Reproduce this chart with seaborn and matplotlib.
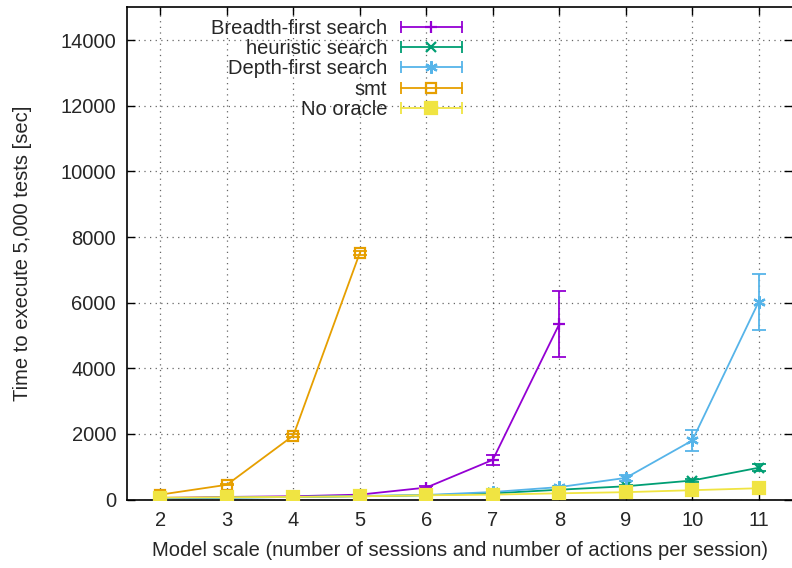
import numpy as np
import pandas as pd
import matplotlib
matplotlib.use("Agg")
import matplotlib.pyplot as plt
import seaborn as sns
from matplotlib.lines import Line2D
from matplotlib.legend_handler import HandlerLine2D, HandlerTuple

# Model scale (sessions = actions per session)
scale = [2, 3, 4, 5, 6, 7, 8, 9, 10, 11]

# Execution time for 5,000 tests [sec] and error-bar half widths
bfs_scale = [2, 3, 4, 5, 6, 7, 8]
bfs_time = [50, 80, 100, 150, 365, 1210, 5350]
bfs_err = [10, 15, 20, 25, 40, 150, 1000]

heur_time = [40, 60, 80, 100, 130, 190, 300, 405, 580, 970]
heur_err = [5, 8, 10, 12, 15, 20, 30, 40, 60, 110]

dfs_time = [40, 60, 80, 110, 140, 230, 380, 660, 1800, 6030]
dfs_err = [5, 8, 10, 12, 15, 30, 40, 80, 330, 850]

smt_scale = [2, 3, 4, 5]
smt_time = [150, 450, 1950, 7520]
smt_err = [10, 20, 40, 60]

none_time = [60, 70, 80, 100, 130, 150, 190, 225, 285, 345]
none_err = [5, 5, 5, 5, 5, 8, 8, 10, 12, 15]

labels = ["Breadth-first search", "heuristic search", "Depth-first search", "smt", "No oracle"]
colors = ["#9400d3", "#009e73", "#56b4e9", "#e69f00", "#f0e442"]

frames = [
    pd.DataFrame({"scale": bfs_scale, "time": bfs_time, "err": bfs_err, "method": labels[0]}),
    pd.DataFrame({"scale": scale, "time": heur_time, "err": heur_err, "method": labels[1]}),
    pd.DataFrame({"scale": scale, "time": dfs_time, "err": dfs_err, "method": labels[2]}),
    pd.DataFrame({"scale": smt_scale, "time": smt_time, "err": smt_err, "method": labels[3]}),
    pd.DataFrame({"scale": scale, "time": none_time, "err": none_err, "method": labels[4]}),
]
df = pd.concat(frames, ignore_index=True)

sns.set_theme(style="white")
plt.rcParams["font.family"] = ["Liberation Sans", "DejaVu Sans"]
plt.rcParams["font.size"] = 14.5

fig = plt.figure(figsize=(7.92, 5.68), dpi=100)
ax = fig.add_axes([0.1605, 0.1205, 0.8395, 0.8665])

asterisk = (6, 2, 0)
markers = ["+", "x", asterisk, "s", "s"]
msizes = [9, 7, 9, 7, 8]
fills = ["full", "full", "full", "none", "full"]

sns.lineplot(data=df, x="scale", y="time", hue="method", hue_order=labels,
             palette=colors, estimator=None, errorbar=None, linewidth=1.3,
             legend=False, ax=ax, zorder=3)

legend_handles = []
for lab, col, mk, ms, fs in zip(labels, colors, markers, msizes, fills):
    sub = df[df["method"] == lab]
    ax.errorbar(sub["scale"], sub["time"], yerr=sub["err"], fmt="none",
                ecolor=col, elinewidth=1.3, capsize=5, capthick=1.3, zorder=3)
    ax.plot(sub["scale"], sub["time"], linestyle="none", marker=mk,
            markersize=ms, markeredgewidth=1.6, color=col,
            markerfacecolor=(col if fs == "full" else "none"),
            markeredgecolor=col, zorder=4)
    bar = Line2D([0, 1], [0, 0], color=col, linewidth=1.3, marker="|",
                 markersize=9, markeredgewidth=1.3)
    dot = Line2D([0], [0], linestyle="none", marker=mk, markersize=ms,
                 markeredgewidth=1.6, color=col,
                 markerfacecolor=(col if fs == "full" else "none"),
                 markeredgecolor=col)
    legend_handles.append((bar, dot))

handler_map = {}
for bar, dot in legend_handles:
    handler_map[bar] = HandlerLine2D(numpoints=2)
    handler_map[dot] = HandlerLine2D(numpoints=1)
handler_map[tuple] = HandlerTuple(ndivide=1, pad=0)

leg = ax.legend(legend_handles, labels, loc="upper left",
                bbox_to_anchor=(0.105, 1.005), markerfirst=False,
                frameon=False, handlelength=3.6, handletextpad=0.4,
                labelspacing=0.06, fontsize=14.5, handler_map=handler_map,
                borderaxespad=0.3)

ax.set_xlim(1.5, 11.5)
ax.set_ylim(0, 15000)
ax.set_xticks(scale)
ax.set_yticks(np.arange(0, 15000, 2000))
ax.set_xlabel("Model scale (number of sessions and number of actions per session)",
              fontsize=14.5, labelpad=8)
ax.set_ylabel("Time to execute 5,000 tests [sec]", fontsize=14.5, labelpad=20)

ax.grid(True, color="#333333", linestyle=(0, (1, 3.5)), linewidth=0.9, alpha=0.75)
ax.tick_params(direction="in", length=6, width=1.0, top=True, right=True,
               bottom=True, left=True, labelsize=14.5, pad=8, color="black")
for side in ["left", "bottom", "top"]:
    ax.spines[side].set_color("black")
    ax.spines[side].set_linewidth(1.2)
ax.spines["right"].set_visible(False)

fig.savefig("out.png", dpi=100)
